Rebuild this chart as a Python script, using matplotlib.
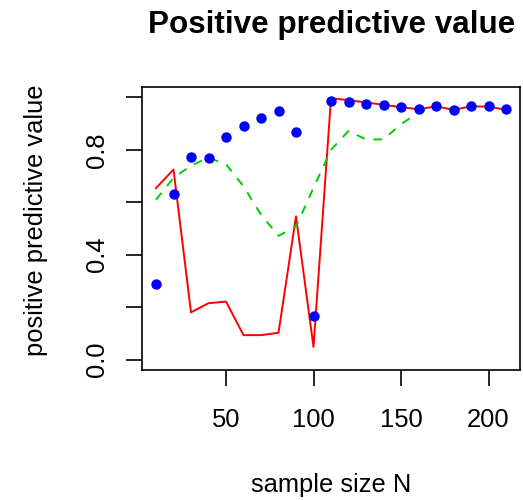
import numpy as np
import matplotlib
matplotlib.use('Agg')
import matplotlib.pyplot as plt

plt.rcParams['font.family'] = ['Liberation Sans', 'DejaVu Sans']

# sample sizes
sample_n = [10, 20, 30, 40, 50, 60, 70, 80, 90, 100, 110,
            120, 130, 140, 150, 160, 170, 180, 190, 200, 210]

# observed PPV (blue points)
ppv_points = [0.289, 0.631, 0.772, 0.769, 0.851, 0.891, 0.923, 0.947, 0.868, 0.167, 0.985,
              0.981, 0.977, 0.970, 0.962, 0.956, 0.967, 0.951, 0.968, 0.966, 0.955]

# red line
ppv_red = [0.654, 0.725, 0.180, 0.215, 0.221, 0.093, 0.093, 0.102, 0.546, 0.048, 0.997,
           0.990, 0.981, 0.972, 0.963, 0.955, 0.966, 0.953, 0.966, 0.965, 0.953]

# green dashed smooth curve
ppv_green = [0.610, 0.693, 0.740, 0.770, 0.745, 0.661, 0.553, 0.472, 0.508, 0.655, 0.800,
             0.872, 0.840, 0.840, 0.898, 0.943, 0.966, 0.958, 0.966, 0.966, 0.958]

y_ticks = [0.0, 0.2, 0.4, 0.6, 0.8, 1.0]
y_ticklabels = ['0.0', '', '0.4', '', '0.8', '']
x_ticks = [50, 100, 150, 200]

FS = 18.4

fig = plt.figure(figsize=(5.23, 5.0), dpi=100)
ax = fig.add_axes([142 / 523, 1 - 370 / 500, (520 - 142) / 523, (370 - 87) / 500])

ax.plot(sample_n, ppv_red, color='#FF0000', lw=1.4)
ax.plot(sample_n, ppv_green, color='#00CD00', lw=1.4, dashes=(4.5, 4.5))
ax.plot(sample_n, ppv_points, 'o', color='#0000FF', ms=7.5, mec='none')

ax.set_xlim(2, 218)
ax.set_ylim(-0.04, 1.04)
ax.set_xticks(x_ticks)
ax.set_yticks(y_ticks)
ax.set_yticklabels(y_ticklabels, rotation=90, va='center')

for s in ax.spines.values():
    s.set_linewidth(1.2)
ax.tick_params(direction='out', length=11.5, width=1.2, labelsize=FS)
ax.tick_params(axis='x', pad=16)
ax.tick_params(axis='y', pad=12)

fig.text(332 / 523, 1 - 33 / 500, 'Positive predictive value', ha='center', va='baseline',
         fontsize=FS * 1.23, fontweight='bold')
fig.text(331 / 523, 1 - 492 / 500, 'sample size N', ha='center', va='baseline', fontsize=FS)
fig.text(36 / 523, 1 - 220 / 500, 'positive predictive value', ha='center', va='center',
         rotation=90, fontsize=FS)

fig.savefig('out.png', dpi=100)
